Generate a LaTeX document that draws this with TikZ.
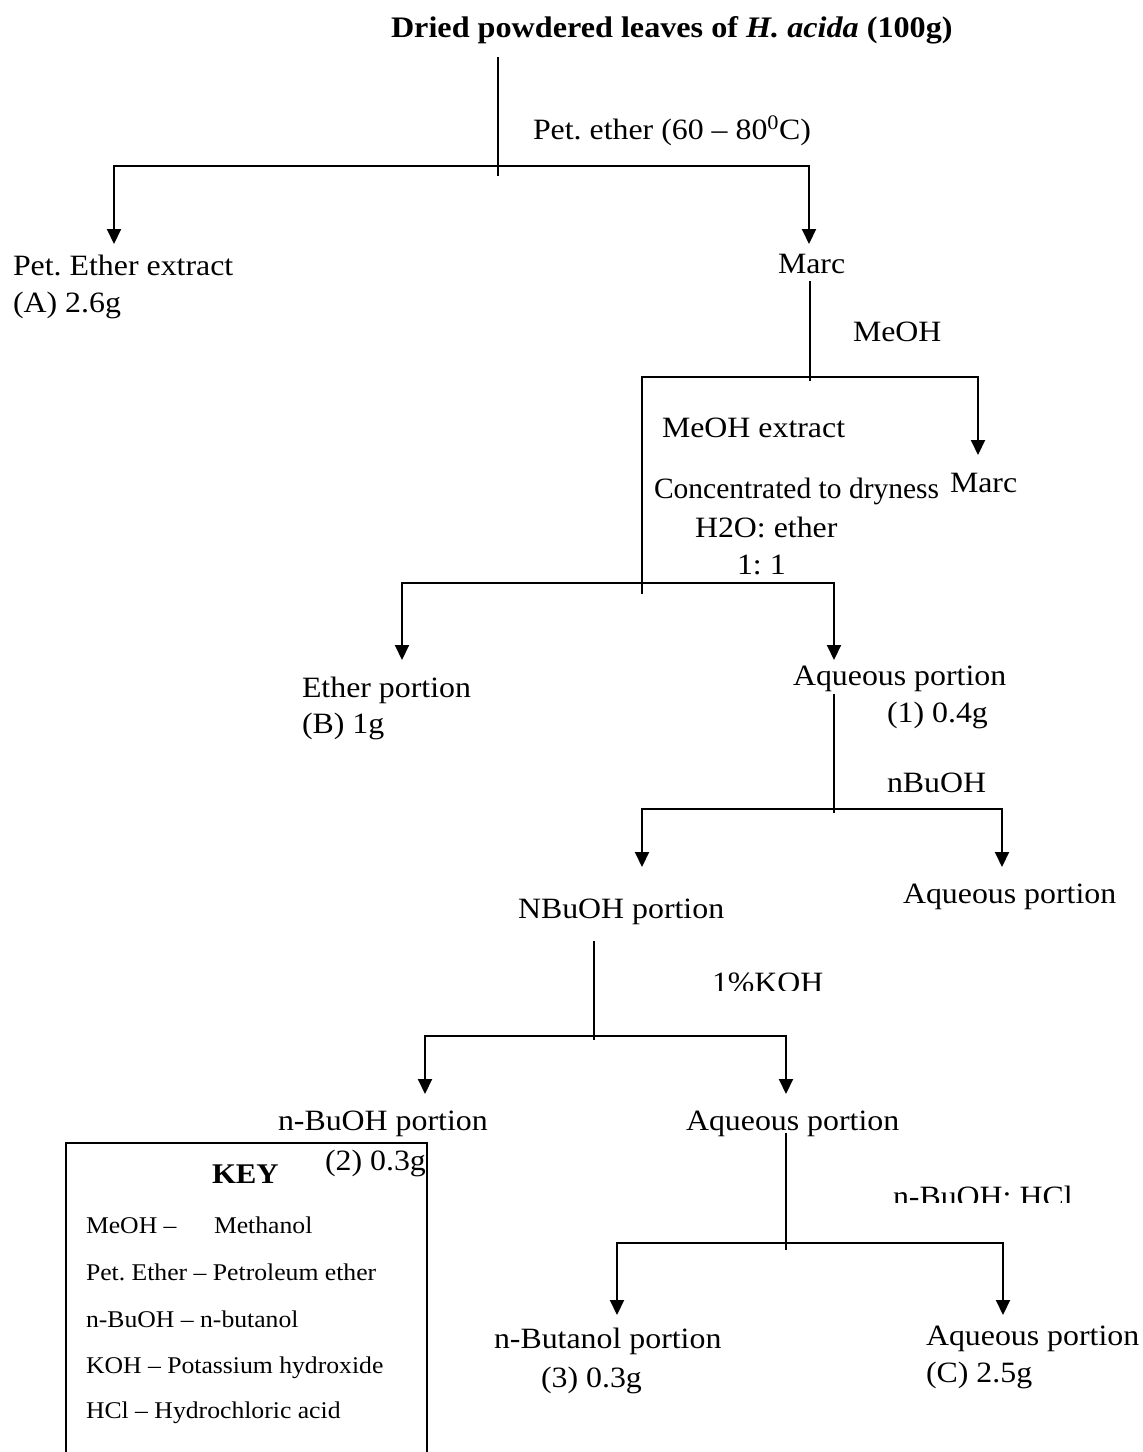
\documentclass[tikz,border=0pt]{standalone}
\usepackage{fontspec}
\setmainfont{Liberation Serif}
\usetikzlibrary{arrows.meta}
\newcommand\hs[1]{\scalebox{1.08}[1]{#1}}
\newcommand\hk[1]{\scalebox{1.07}[1]{#1}}
\frenchspacing
\begin{document}
\begin{tikzpicture}[x=1pt,y=-1pt,
  lbl/.style={anchor=base west, inner sep=0pt, outer sep=0pt, font=\fontsize{29.5}{35}\selectfont},
  keyt/.style={anchor=base west, inner sep=0pt, outer sep=0pt, font=\fontsize{24}{28}\selectfont},
  trunk/.style={line width=1.6pt},
  branch/.style={line width=2pt, -{Triangle[width=14pt,length=15pt]}},
  bar/.style={line width=2pt},
  keybox/.style={line width=2pt}]
\useasboundingbox (0,0) rectangle (1143,1452);

% ---------- level 1
\node[lbl, font=\fontsize{29.8}{35}\selectfont\bfseries] (root) at (391,37) {\hs{Dried powdered leaves of \textit{H. acida} (100g)}};
\coordinate (r0) at (498,57);
\coordinate (r1) at (498,176);
\coordinate (j1) at (498,166);
\coordinate (aPE) at (114,244);
\coordinate (aM1) at (809,244);
\draw[trunk] (r0) -- (r1);
\draw[branch] (j1) -| (aPE);
\draw[branch] (j1) -| (aM1);
\node[lbl] (petlab) at (533,139) {\hs{Pet. ether (60 – 80\textsuperscript{0}C)}};
\node[lbl] (petA) at (13,275) {\hs{Pet. Ether extract}};
\node[lbl] (petA2) at (13,312) {\hs{(A) 2.6g}};
\node[lbl] (marc1) at (778,273) {\hs{Marc}};

% ---------- level 2
\coordinate (m0) at (810,281);
\coordinate (j2) at (810,377);
\coordinate (m1) at (810,381);
\coordinate (l2) at (642,377);
\coordinate (m3) at (642,594);
\coordinate (aM2) at (978,455);
\draw[trunk] (m0) -- (m1);
\draw[bar] (j2) -- (l2) -- (m3);
\draw[branch] (j2) -| (aM2);
\node[lbl] (meohlab) at (853,341) {\hs{MeOH}};
\node[lbl] (meohext) at (662,437) {\hs{MeOH extract}};
\node[lbl] (conc) at (654,498) {Concentrated to dryness};
\node[lbl] (h2o) at (695,537) {\hs{H2O: ether}};
\node[lbl] (ratio) at (737,574) {\hs{1: 1}};
\node[lbl] (marc2) at (950,492) {\hs{Marc}};

% ---------- level 3
\coordinate (j3) at (642,583);
\coordinate (aEth) at (402,660);
\coordinate (aAq1) at (834,660);
\draw[branch] (j3) -| (aEth);
\draw[branch] (j3) -| (aAq1);
\node[lbl] (eth) at (302,697) {\hs{Ether portion}};
\node[lbl] (eth2) at (302,733) {\hs{(B) 1g}};
\node[lbl] (aq1) at (793,685) {\hs{Aqueous portion}};
\node[lbl] (aq1b) at (887,722) {\hs{(1) 0.4g}};

% ---------- level 4
\coordinate (q0) at (834,694);
\coordinate (q1) at (834,813);
\coordinate (j4) at (834,809);
\coordinate (aNB) at (642,867);
\coordinate (aAq2) at (1002,867);
\draw[trunk] (q0) -- (q1);
\draw[branch] (j4) -| (aNB);
\draw[branch] (j4) -| (aAq2);
\node[lbl] (nbulab) at (887,792) {\hs{nBuOH}};
\node[lbl] (nbu) at (518,918) {\hs{NBuOH portion}};
\node[lbl] (aq2) at (903,903) {\hs{Aqueous portion}};

% ---------- level 5
\coordinate (n0) at (594,941);
\coordinate (n1) at (594,1040);
\coordinate (j5) at (594,1036);
\coordinate (aBu2) at (425,1094);
\coordinate (aAq3) at (786,1094);
\draw[trunk] (n0) -- (n1);
\draw[branch] (j5) -| (aBu2);
\draw[branch] (j5) -| (aAq3);
\begin{scope}
  \clip (700,950) rectangle (840,990);
  \node[lbl] (kohlab) at (712,992) {\hs{1\%KOH}};
\end{scope}
\node[lbl] (bu2) at (278,1130) {\hs{n-BuOH portion}};
\node[lbl] (bu2b) at (325,1170) {\hs{(2) 0.3g}};
\node[lbl] (aq3) at (686,1130) {\hs{Aqueous portion}};

% ---------- level 6
\coordinate (p0) at (786,1133);
\coordinate (p1) at (786,1250);
\coordinate (j6) at (786,1243);
\coordinate (aBut) at (617,1315);
\coordinate (aAqC) at (1003,1315);
\draw[trunk] (p0) -- (p1);
\draw[branch] (j6) -| (aBut);
\draw[branch] (j6) -| (aAqC);
\begin{scope}
  \clip (880,1170) rectangle (1090,1202);
  \node[lbl] (hcllab) at (893,1206) {\hs{n-BuOH: HCl}};
\end{scope}
\node[lbl] (but) at (494,1348) {\hs{n-Butanol portion}};
\node[lbl] (butb) at (541,1387) {\hs{(3) 0.3g}};
\node[lbl] (aqC) at (926,1345) {\hs{Aqueous portion}};
\node[lbl] (aqCb) at (926,1382) {\hs{(C) 2.5g}};

% ---------- key
\coordinate (k0) at (66,1456);
\coordinate (k1) at (66,1143);
\coordinate (k2) at (427,1143);
\coordinate (k3) at (427,1456);
\draw[keybox] (k0) -- (k1) -- (k2) -- (k3);
\node[lbl, font=\fontsize{28.5}{34}\selectfont\bfseries] (keyh) at (212,1183) {\hs{KEY}};
\node[keyt] (k1a) at (86,1233) {\hk{MeOH –}};
\node[keyt] (k1b) at (214,1233) {\hk{Methanol}};
\node[keyt] (k2a) at (86,1280) {\hk{Pet. Ether – Petroleum ether}};
\node[keyt] (k3a) at (86,1327) {\hk{n-BuOH – n-butanol}};
\node[keyt] (k4a) at (86,1373) {\hk{KOH – Potassium hydroxide}};
\node[keyt] (k5a) at (86,1418) {\hk{HCl – Hydrochloric acid}};
\end{tikzpicture}
\end{document}
